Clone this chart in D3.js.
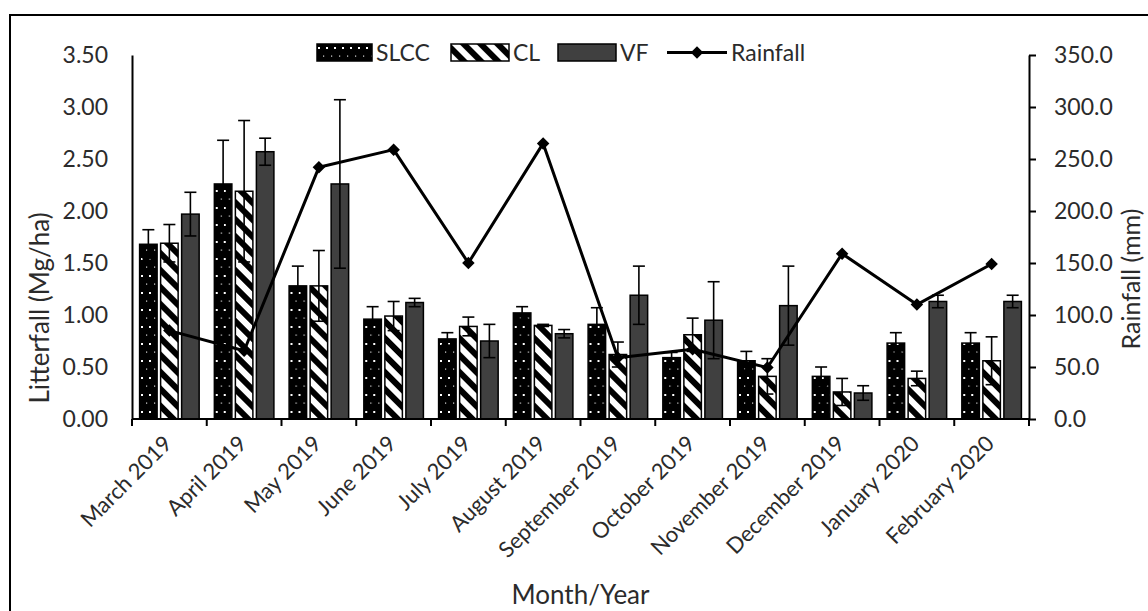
<!DOCTYPE html>
<html>
<head>
<meta charset="utf-8">
<script src="https://cdn.jsdelivr.net/npm/d3@7"></script>
<style>
  html, body { margin: 0; padding: 0; background: #fff; }
  svg { display: block; font-family: Lato, "Open Sans", sans-serif; }
</style>
</head>
<body>
<div id="chart"></div>
<script>
'use strict'

////////////////////////////////////////
///////////////// Data /////////////////
////////////////////////////////////////

const months = ["March 2019", "April 2019", "May 2019", "June 2019", "July 2019", "August 2019",
  "September 2019", "October 2019", "November 2019", "December 2019", "January 2020", "February 2020"];

const seriesNames = ["SLCC", "CL", "VF"];

const slcc = [1.68, 2.26, 1.28, 0.96, 0.77, 1.02, 0.91, 0.59, 0.56, 0.41, 0.73, 0.73];
const slccErr = [0.14, 0.42, 0.19, 0.12, 0.06, 0.06, 0.16, 0.05, 0.09, 0.09, 0.10, 0.10];

const cl = [1.69, 2.19, 1.28, 0.99, 0.89, 0.90, 0.62, 0.81, 0.41, 0.26, 0.39, 0.56];
const clErr = [0.18, 0.68, 0.34, 0.14, 0.09, 0.01, 0.12, 0.16, 0.17, 0.13, 0.07, 0.23];

const vf = [1.97, 2.57, 2.26, 1.12, 0.75, 0.82, 1.19, 0.95, 1.09, 0.25, 1.13, 1.13];
const vfErr = [0.21, 0.13, 0.81, 0.04, 0.16, 0.04, 0.28, 0.37, 0.38, 0.07, 0.06, 0.06];

const rainfall = [85, 65.6, 242, 259, 150, 265, 59, 67, 49.5, 159, 110, 149];

const leftTicks = [0, 0.5, 1, 1.5, 2, 2.5, 3, 3.5];
const rightTicks = [0, 50, 100, 150, 200, 250, 300, 350];

////////////////////////////////////////
/////////////// Options ////////////////
////////////////////////////////////////

const options = {
  width: 1148,
  height: 611,
  left: 132,
  right: 1029,
  top: 55,
  bottom: 419,
  text: "#2b2b2b",
  vfFill: "#404040",
  tickSize: 23,
  labelSize: 22,
  titleSize: 26
};

// one row per month, bars built from the three arrays
const values = { SLCC: slcc, CL: cl, VF: vf };
const errors = { SLCC: slccErr, CL: clErr, VF: vfErr };
const table = months.map((m, i) => ({
  month: m,
  bars: seriesNames.map(s => ({ month: m, key: s, value: values[s][i], err: errors[s][i] })),
  rain: rainfall[i]
}));

////////////////////////////////////////
////////////// SVG Setup ///////////////
////////////////////////////////////////

const svg = d3.select('#chart').append('svg')
  .attr('width', options.width)
  .attr('height', options.height);

const defs = svg.append('defs');

// black with small white dots
const dots = defs.append('pattern')
  .attr('id', 'dots')
  .attr('patternUnits', 'userSpaceOnUse')
  .attr('width', 8)
  .attr('height', 17);
dots.append('rect').attr('width', 8).attr('height', 17).attr('fill', '#000');
dots.append('rect').attr('x', 1).attr('y', 3).attr('width', 2).attr('height', 2).attr('fill', '#fff');
dots.append('rect').attr('x', 6).attr('y', 11.5).attr('width', 1.2).attr('height', 1.2).attr('fill', '#ddd');

// white with wide downward diagonal stripes
const hatch = defs.append('pattern')
  .attr('id', 'hatch')
  .attr('patternUnits', 'userSpaceOnUse')
  .attr('width', 12)
  .attr('height', 12)
  .attr('patternTransform', 'rotate(45)');
hatch.append('rect').attr('width', 12).attr('height', 12).attr('fill', '#fff');
hatch.append('rect').attr('width', 12).attr('height', 6).attr('fill', '#000');

const fills = { SLCC: 'url(#dots)', CL: 'url(#hatch)', VF: options.vfFill };

// outer frame
svg.append('rect')
  .attr('x', 10)
  .attr('y', 15)
  .attr('width', 1160)
  .attr('height', 620)
  .attr('fill', 'none')
  .attr('stroke', '#000')
  .attr('stroke-width', 2);

////////////////////////////////////////
//////////////// Scales ////////////////
////////////////////////////////////////

const x0 = d3.scaleBand()
  .domain(months)
  .range([options.left, options.right])
  .padding(0);

const x1 = d3.scaleBand()
  .domain(seriesNames)
  .range([7.6, x0.bandwidth() - 7.6])
  .paddingInner(1 / 6);

const y = d3.scaleLinear()
  .domain([0, 3.5])
  .range([options.bottom, options.top]);

const yR = d3.scaleLinear()
  .domain([0, 350])
  .range([options.bottom, options.top]);

////////////////////////////////////////
///////////////// Bars /////////////////
////////////////////////////////////////

const groups = svg.append('g')
  .selectAll('g')
  .data(table)
  .join('g')
  .attr('transform', d => `translate(${x0(d.month)},0)`);

groups.selectAll('rect')
  .data(d => d.bars)
  .join('rect')
  .attr('x', d => x1(d.key))
  .attr('y', d => y(d.value))
  .attr('width', x1.bandwidth())
  .attr('height', d => y(0) - y(d.value))
  .attr('fill', d => fills[d.key])
  .attr('stroke', '#000')
  .attr('stroke-width', 1.5);

// error bars, both directions with caps
const capW = 6;
const err = groups.selectAll('g.err')
  .data(d => d.bars)
  .join('g')
  .attr('class', 'err')
  .attr('stroke', '#000')
  .attr('stroke-width', 1.6);

err.append('line')
  .attr('x1', d => x1(d.key) + x1.bandwidth() / 2)
  .attr('x2', d => x1(d.key) + x1.bandwidth() / 2)
  .attr('y1', d => y(Math.max(0, d.value - d.err)))
  .attr('y2', d => y(d.value + d.err));

err.append('line')
  .attr('x1', d => x1(d.key) + x1.bandwidth() / 2 - capW)
  .attr('x2', d => x1(d.key) + x1.bandwidth() / 2 + capW)
  .attr('y1', d => y(d.value + d.err))
  .attr('y2', d => y(d.value + d.err));

err.append('line')
  .attr('x1', d => x1(d.key) + x1.bandwidth() / 2 - capW)
  .attr('x2', d => x1(d.key) + x1.bandwidth() / 2 + capW)
  .attr('y1', d => y(Math.max(0, d.value - d.err)))
  .attr('y2', d => y(Math.max(0, d.value - d.err)));

////////////////////////////////////////
//////////////// Axes //////////////////
////////////////////////////////////////

const xAxis = svg.append('g')
  .attr('transform', `translate(0,${options.bottom})`);

xAxis.append('line')
  .attr('x1', options.left)
  .attr('x2', options.right)
  .attr('stroke', '#000')
  .attr('stroke-width', 2);

xAxis.selectAll('line.tick')
  .data(d3.range(months.length + 1))
  .join('line')
  .attr('class', 'tick')
  .attr('x1', i => options.left + i * x0.step())
  .attr('x2', i => options.left + i * x0.step())
  .attr('y1', 0)
  .attr('y2', 7)
  .attr('stroke', '#000')
  .attr('stroke-width', 2);

xAxis.selectAll('text')
  .data(months)
  .join('text')
  .attr('transform', d => `translate(${x0(d) + x0.bandwidth() / 2 + 4},26) rotate(-45)`)
  .attr('text-anchor', 'end')
  .attr('font-size', options.labelSize)
  .attr('fill', options.text)
  .text(d => d);

// left axis, no ticks
const yAxisL = d3.axisLeft(y)
  .tickValues(leftTicks)
  .tickSize(0)
  .tickPadding(24)
  .tickFormat(d3.format('.2f'));

svg.append('g')
  .attr('transform', `translate(${options.left},0)`)
  .call(yAxisL)
  .call(g => g.select('.domain').attr('stroke', '#000').attr('stroke-width', 2))
  .call(g => g.selectAll('text').attr('font-size', options.tickSize).attr('fill', options.text)
    .attr('font-family', 'Lato, sans-serif'));

// right axis, outward ticks
const yAxisR = d3.axisRight(yR)
  .tickValues(rightTicks)
  .tickSizeInner(7)
  .tickSizeOuter(0)
  .tickPadding(18)
  .tickFormat(d3.format('.1f'));

svg.append('g')
  .attr('transform', `translate(${options.right},0)`)
  .call(yAxisR)
  .call(g => g.select('.domain').attr('stroke', '#000').attr('stroke-width', 2))
  .call(g => g.selectAll('.tick line').attr('stroke', '#000').attr('stroke-width', 2))
  .call(g => g.selectAll('text').attr('font-size', options.tickSize).attr('fill', options.text)
    .attr('font-family', 'Lato, sans-serif'));

////////////////////////////////////////
/////////////// Rainfall ///////////////
////////////////////////////////////////

const line = d3.line()
  .x(d => x0(d.month) + x0.bandwidth() / 2)
  .y(d => yR(d.rain));

svg.append('path')
  .datum(table)
  .attr('d', line)
  .attr('fill', 'none')
  .attr('stroke', '#000')
  .attr('stroke-width', 3)
  .attr('stroke-linejoin', 'round');

const diamond = d3.symbol().type(d3.symbolDiamond2).size(100);

svg.selectAll('path.marker')
  .data(table)
  .join('path')
  .attr('class', 'marker')
  .attr('d', diamond)
  .attr('transform', d => `translate(${x0(d.month) + x0.bandwidth() / 2},${yR(d.rain)})`)
  .attr('fill', '#000');

////////////////////////////////////////
//////////////// Titles ////////////////
////////////////////////////////////////

svg.append('text')
  .attr('transform', 'translate(49,308) rotate(-90)')
  .attr('text-anchor', 'middle')
  .attr('font-size', options.titleSize)
  .attr('fill', options.text)
  .text('Litterfall (Mg/ha)');

svg.append('text')
  .attr('transform', 'translate(1140,279) rotate(-90)')
  .attr('text-anchor', 'middle')
  .attr('font-size', 25)
  .attr('fill', options.text)
  .text('Rainfall (mm)');

svg.append('text')
  .attr('x', (options.left + options.right) / 2)
  .attr('y', 604)
  .attr('text-anchor', 'middle')
  .attr('font-size', options.titleSize)
  .attr('fill', options.text)
  .text('Month/Year');

////////////////////////////////////////
//////////////// Legend ////////////////
////////////////////////////////////////

const legendItems = [
  { key: 'SLCC', x: 317, w: 55 },
  { key: 'CL', x: 451, w: 58 },
  { key: 'VF', x: 558, w: 58 },
  { key: 'Rainfall', x: 667, w: 60 }
];

const legend = svg.append('g')
  .selectAll('g')
  .data(legendItems)
  .join('g')
  .attr('transform', d => `translate(${d.x},44)`);

legend.filter(d => d.key !== 'Rainfall')
  .append('rect')
  .attr('width', d => d.w)
  .attr('height', 17)
  .attr('fill', d => fills[d.key])
  .attr('stroke', '#000')
  .attr('stroke-width', 1.5);

const rainKey = legend.filter(d => d.key === 'Rainfall');
rainKey.append('line')
  .attr('x1', 0)
  .attr('x2', d => d.w)
  .attr('y1', 8.5)
  .attr('y2', 8.5)
  .attr('stroke', '#000')
  .attr('stroke-width', 3);
rainKey.append('path')
  .attr('d', diamond)
  .attr('transform', d => `translate(${d.w / 2},8.5)`)
  .attr('fill', '#000');

legend.append('text')
  .attr('x', d => d.w + 4)
  .attr('y', 17)
  .attr('font-size', options.tickSize)
  .attr('fill', options.text)
  .text(d => d.key);
</script>
</body>
</html>
